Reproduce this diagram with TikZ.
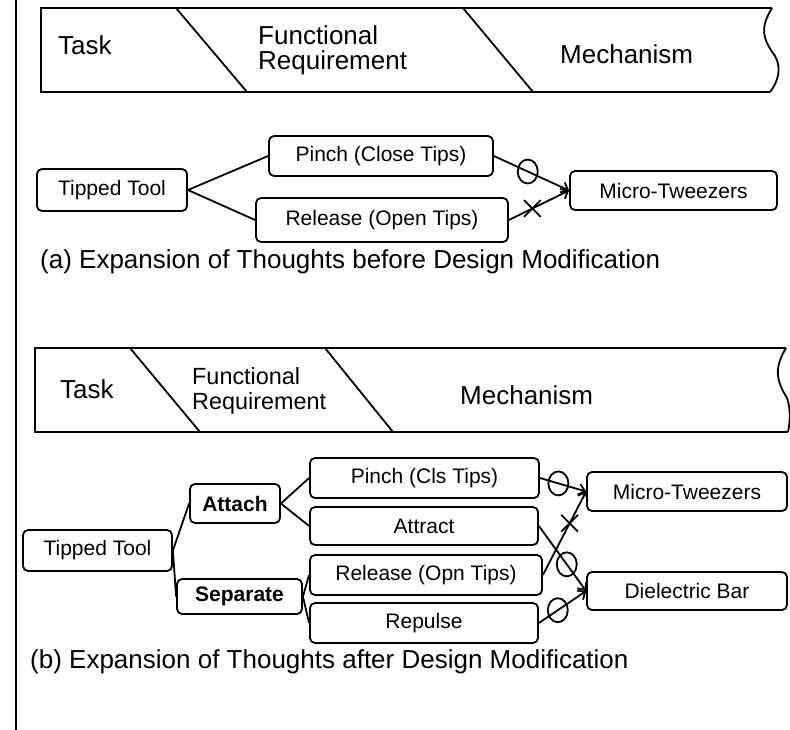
\documentclass[tikz,border=0pt]{standalone}
\usepackage{fontspec}
\setmainfont{Liberation Sans}
\usetikzlibrary{arrows.meta,shapes.geometric,shapes.misc}
\begin{document}
\begin{tikzpicture}[x=1pt,y=-1pt,
  hdr/.style={font=\fontsize{26}{28}\selectfont, inner sep=0, anchor=base west},
  hdrsmall/.style={font=\fontsize{23.4}{26}\selectfont, inner sep=0, anchor=base west},
  box/.style={draw, rounded corners=5pt, line width=1.8pt, inner sep=0, font=\fontsize{21}{24}\selectfont},
  boldbox/.style={box, font=\fontsize{21}{24}\selectfont\bfseries},
  ln/.style={line width=1.8pt},
  arr/.style={line width=1.8pt, -{Straight Barb[length=6pt,width=11pt]}},
  oval/.style={draw, ellipse, line width=1.8pt, minimum width=20pt, minimum height=24pt, inner sep=0},
  xmark/.style={draw, cross out, line width=1.8pt, minimum width=15pt, minimum height=15pt, inner sep=0},
  captext/.style={font=\fontsize{26}{28}\selectfont, inner sep=0, anchor=base west}
]
\useasboundingbox (0,0) rectangle (790,730);
\draw[line width=2.2pt] (16,0) -- (16,730);

% ---------- header (a)
\draw[ln] (772,8) -- (41,8) -- (41,92) -- (770,92);
\draw[ln] (772,8) .. controls (760,28) and (762,38) .. (775,56) .. controls (782,68) and (778,82) .. (770,92);
\draw[ln] (176,8) -- (247,92);
\draw[ln] (463,8) -- (533,92);
\node[hdr] (hta) at (58,55) {Task};
\node[hdr] (hfa1) at (258,45) {Functional};
\node[hdr] (hfa2) at (258,70) {Requirement};
\node[hdr] (hma) at (560,64) {Mechanism};

% ---------- diagram (a)
\node[box, minimum width=150pt, minimum height=42pt] (ta) at (112,190) {Tipped Tool};
\node[box, minimum width=224pt, minimum height=40pt] (pa) at (381,156) {Pinch (Close Tips)};
\node[box, minimum width=252pt, minimum height=44pt] (ra) at (382,220) {Release (Open Tips)};
\node[box, minimum width=207pt, minimum height=39pt] (ma) at (673.5,190.5) {Micro-Tweezers};
\draw[ln] (ta.east) -- (pa.west);
\draw[ln] (ta.east) -- (ra.west);
\draw[arr] (pa.east) -- node[oval, pos=0.45] (oa1) {} (ma.west);
\draw[arr] (ra.east) -- node[xmark, pos=0.39] (xa1) {} (ma.west);
\node[captext] (capa) at (40,269) {(a) Expansion of Thoughts before Design Modification};

% ---------- header (b)
\draw[ln] (786,348) -- (35,348) -- (35,432) -- (788,432);
\draw[ln] (786,348) .. controls (774,368) and (776,380) .. (787,398) .. controls (791,410) and (790,422) .. (788,432);
\draw[ln] (130,348) -- (200,432);
\draw[ln] (325,348) -- (393,432);
\node[hdr] (htb) at (60,398) {Task};
\node[hdrsmall] (hfb1) at (192,384) {Functional};
\node[hdrsmall] (hfb2) at (192,409) {Requirement};
\node[hdr] (hmb) at (460,404) {Mechanism};

% ---------- diagram (b)
\node[box, minimum width=149pt, minimum height=41pt] (tb) at (97.5,550.5) {Tipped Tool};
\node[boldbox, minimum width=90pt, minimum height=39pt] (at) at (235,503.5) {Attach};
\node[boldbox, minimum width=125pt, minimum height=35pt] (se) at (239.5,596.5) {Separate};
\node[box, minimum width=229pt, minimum height=40pt] (pb) at (424.5,478) {Pinch (Cls Tips)};
\node[box, minimum width=228pt, minimum height=38pt] (ab) at (424,526) {Attract};
\node[box, minimum width=232pt, minimum height=40pt] (rb) at (426,575) {Release (Opn Tips)};
\node[box, minimum width=228pt, minimum height=40pt] (rp) at (424,623) {Repulse};
\node[box, minimum width=200pt, minimum height=39pt] (mb) at (687,491.5) {Micro-Tweezers};
\node[box, minimum width=200pt, minimum height=38pt] (db) at (687,591) {Dielectric Bar};
\draw[ln] (tb.east) -- (at.west);
\draw[ln] (tb.east) -- (se.west);
\draw[ln] (at.east) -- (pb.west);
\draw[ln] (at.east) -- (ab.west);
\draw[ln] (se.east) -- (rb.west);
\draw[ln] (se.east) -- (rp.west);
\draw[arr] (pb.east) -- node[oval, pos=0.4] (ob1) {} (mb.west);
\draw[arr] (ab.east) -- node[oval, pos=0.59] (ob2) {} (db.west);
\draw[arr] (rb.east) -- node[xmark, pos=0.62] (xb1) {} (mb.west);
\draw[arr] (rp.east) -- node[oval, pos=0.4] (ob3) {} (db.west);
\node[captext] (capb) at (30,668) {(b) Expansion of Thoughts after Design Modification};
\end{tikzpicture}
\end{document}
